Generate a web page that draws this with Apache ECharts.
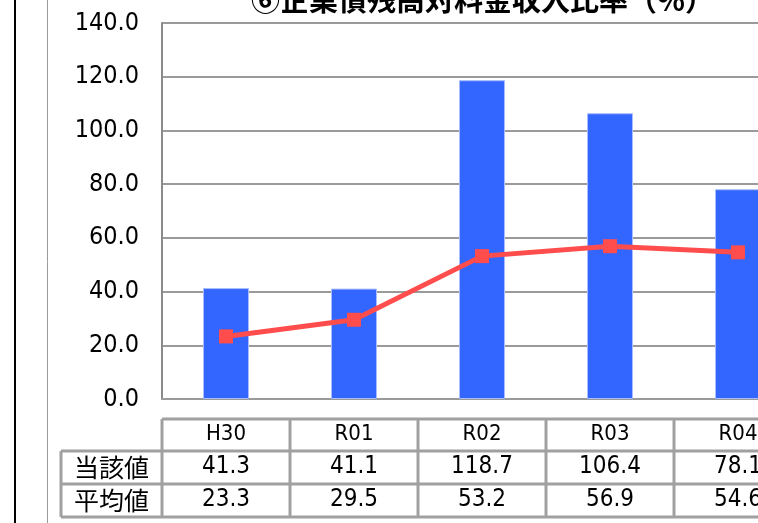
<!DOCTYPE html>
<html>
<head>
<meta charset="utf-8">
<script src="https://cdn.jsdelivr.net/npm/echarts@6/dist/echarts.min.js"></script>
<style>
html,body{margin:0;padding:0;background:#fff;}
#main{width:758px;height:523px;}
</style>
</head>
<body>
<div id="main"></div>
<script>
var titleText = '⑥企業債残高対料金収入比率（%）';
var categories = ['H30', 'R01', 'R02', 'R03', 'R04'];
var currentValues = [41.3, 41.1, 118.7, 106.4, 78.1];
var averageValues = [23.3, 29.5, 53.2, 56.9, 54.6];
var rowLabels = ['当該値', '平均値'];
var yTicks = [0, 20, 40, 60, 80, 100, 120, 140];

var numFont = '"Liberation Sans Narrow","DejaVu Sans Condensed","Noto Sans CJK JP",sans-serif';
var jpFont = '"Noto Sans CJK JP",sans-serif';

var chart = echarts.init(document.getElementById('main'), null, {renderer: 'canvas'});

function fmt(v){ return v.toFixed(1); }

var baseOption = {
  animation: false,
  backgroundColor: '#ffffff',
  title: {
    text: titleText,
    left: 246,
    top: -20,
    textStyle: {fontFamily: jpFont, fontSize: 29, fontWeight: 'bold', color: '#000'}
  },
  grid: {left: 162, width: 640, top: 23, height: 376, containLabel: false, outerBoundsMode: 'none'},
  xAxis: [
    {
      type: 'category', data: categories, position: 'bottom',
      axisLine: {show: true, lineStyle: {color: '#9a9a9a', width: 2}},
      axisTick: {show: false},
      axisLabel: {margin: 35, verticalAlign: 'middle', fontFamily: numFont, fontSize: 22, color: '#000'}
    },
    {
      type: 'category', data: currentValues.map(fmt), position: 'bottom', offset: 0,
      axisLine: {show: false}, axisTick: {show: false},
      axisLabel: {margin: 68, verticalAlign: 'middle', fontFamily: numFont, fontSize: 24, color: '#000'}
    },
    {
      type: 'category', data: averageValues.map(fmt), position: 'bottom', offset: 0,
      axisLine: {show: false}, axisTick: {show: false},
      axisLabel: {margin: 101, verticalAlign: 'middle', fontFamily: numFont, fontSize: 24, color: '#000'}
    }
  ],
  yAxis: {
    type: 'value', min: yTicks[0], max: yTicks[yTicks.length - 1], interval: 20,
    axisLine: {show: true, lineStyle: {color: '#8a8a8a', width: 2}},
    axisTick: {show: false},
    axisLabel: {margin: 23, fontFamily: numFont, fontSize: 25, color: '#000', formatter: function(v){ return v.toFixed(1); }},
    splitLine: {show: true, lineStyle: {color: '#9a9a9a', width: 2}}
  },
  series: [
    {
      name: '当該値', type: 'bar', data: currentValues, barWidth: 46,
      itemStyle: {color: '#3366ff', borderColor: '#a8bcff', borderWidth: 1}
    },
    {
      name: '平均値', type: 'line', data: averageValues,
      symbol: 'rect', symbolSize: 14,
      lineStyle: {color: '#ff4d4d', width: 5},
      itemStyle: {color: '#ff4d4d'}
    }
  ]
};
chart.setOption(baseOption);

var halfBand = (chart.convertToPixel({xAxisIndex: 0}, 1) - chart.convertToPixel({xAxisIndex: 0}, 0)) / 2;
var x0 = chart.convertToPixel({xAxisIndex: 0}, 0) - halfBand;
var xEnd = chart.convertToPixel({xAxisIndex: 0}, categories.length - 1) + halfBand;
var rowTops = [419, 451, 484, 517];
var labelLeft = 61;
var lc = '#a0a0a0', lw = 3;
var g = [];
function line(x1, y1, x2, y2, c, w){
  g.push({type: 'line', shape: {x1: x1, y1: y1, x2: x2, y2: y2}, style: {stroke: c || lc, lineWidth: w || lw}, silent: true});
}
line(x0, rowTops[0], xEnd, rowTops[0]);
for (var r = 1; r < rowTops.length; r++) line(labelLeft, rowTops[r], xEnd, rowTops[r]);
line(labelLeft, rowTops[1], labelLeft, rowTops[3]);
for (var i = 0; i <= categories.length; i++) {
  var xx = x0 + i * 2 * halfBand;
  line(xx, rowTops[0], xx, rowTops[3]);
}
rowLabels.forEach(function(t, k){
  g.push({type: 'text', x: (labelLeft + x0) / 2, y: (rowTops[k + 1] + rowTops[k + 2]) / 2,
    style: {text: t, fontFamily: jpFont, fontSize: 25, fill: '#000', textAlign: 'center', textVerticalAlign: 'middle'}, silent: true});
});
line(15, 0, 15, 523, '#000', 2);
line(47.5, 0, 47.5, 523, '#9a9a9a', 1);
chart.setOption({graphic: g});
</script>
</body>
</html>
